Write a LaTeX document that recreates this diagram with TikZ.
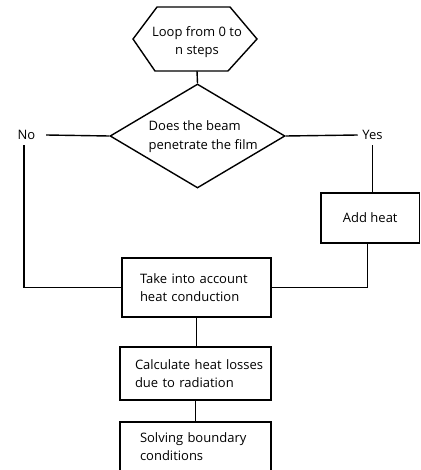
\documentclass[tikz,border=0pt]{standalone}
\usepackage{fontspec}
\setmainfont{Open Sans}
\usetikzlibrary{shapes.geometric}
\begin{document}
\begin{tikzpicture}[x=1pt,y=-1pt,line width=1.4pt,
  font=\fontsize{13}{18.5}\selectfont,
  box/.style={draw,rectangle,inner ysep=0pt,align=left},
  lbl/.style={inner sep=0pt,align=left}]
\useasboundingbox (0,0) rectangle (420,470);
\clip (0,0) rectangle (420,470);
% hexagon
\coordinate (hA) at (133,39);
\coordinate (hB) at (157,7);
\coordinate (hC) at (230,7);
\coordinate (hD) at (257,39);
\coordinate (hE) at (228,71);
\coordinate (hF) at (155,71);
\coordinate (hexS) at (197,71);
\draw (hA) -- (hB) -- (hC) -- (hD) -- (hE) -- (hF) -- cycle;
\node[align=center,inner sep=0pt] (hex) at (197,42) {Loop from 0 to\\n steps};
% decision
\node[diamond,draw,minimum width=175pt,minimum height=104pt,inner sep=0pt] (dec) at (197.5,136) {};
\node[lbl,anchor=west] (dectext) at (148,136.5) {Does the beam\\penetrate the film};
\node[inner xsep=10pt,inner ysep=5pt] (no) at (26.5,135) {No};
\node[inner xsep=4pt,inner ysep=5pt] (yes) at (372.5,135) {Yes};
% boxes
\node[box,minimum width=98.5pt,minimum height=50pt,align=center] (add) at (370.25,218) {Add heat};
\node[box,minimum width=149pt,minimum height=59pt,inner xsep=0pt,text width=113pt] (b1) at (196.5,287.5) {\mbox{Take into account}\\\mbox{heat conduction}};
\node[box,minimum width=151pt,minimum height=53pt,inner xsep=0pt,text width=121pt] (b2) at (195.5,373.5) {\mbox{Calculate heat losses}\\\mbox{due to radiation}};
\node[box,minimum width=151pt,minimum height=49.5pt,inner xsep=0pt,text width=111pt] (b3) at (195.5,446.75) {\mbox{Solving boundary}\\\mbox{conditions}};
% connectors
\draw (hexS) -- (dec.north);
\draw (dec.west) -- (no.east);
\draw (dec.east) -- (yes.west);
\draw (yes.south) -- (yes.south |- add.north);
\draw ([xshift=-2.5pt]no.south) |- (b1.west);
\draw ([xshift=-3pt]add.south) |- (b1.east);
\draw (b1.south) -- (b1.south |- b2.north);
\draw (b2.south) -- (b2.south |- b3.north);
\end{tikzpicture}
\end{document}
